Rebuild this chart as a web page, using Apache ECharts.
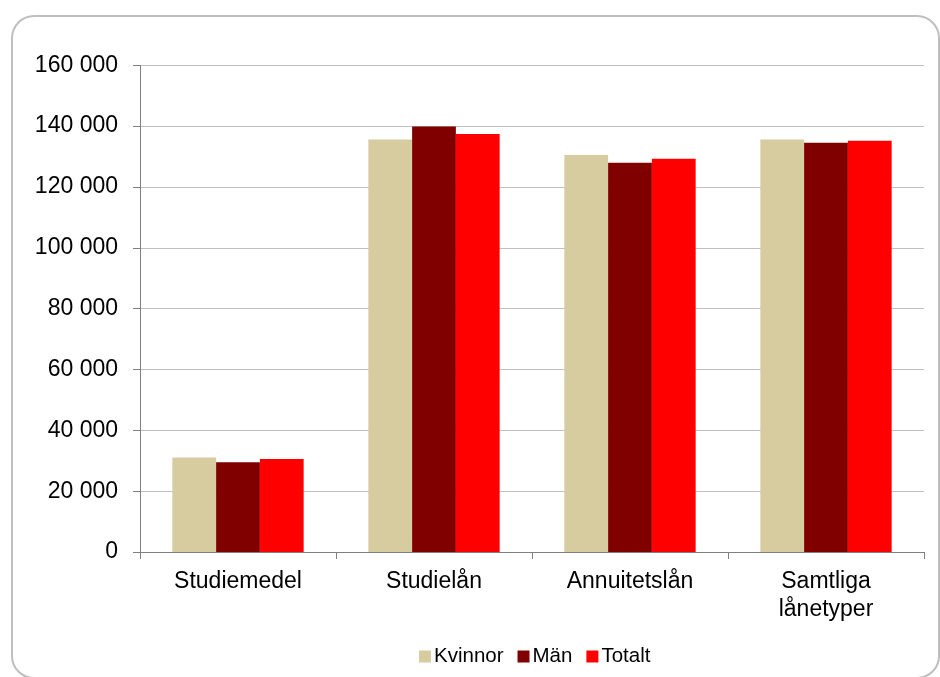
<!DOCTYPE html>
<html>
<head>
<meta charset="utf-8">
<script src="https://cdn.jsdelivr.net/npm/echarts@6/dist/echarts.min.js"></script>
<style>
html,body{margin:0;padding:0;background:#fff;}
#chart{width:940px;height:677px;}
</style>
</head>
<body>
<div id="chart"></div>
<script>
var categories = ['Studiemedel', 'Studielån', 'Annuitetslån', 'Samtliga\nlånetyper'];
var seriesNames = ['Kvinnor', 'Män', 'Totalt'];
var kvinnor = [31100, 135600, 130500, 135600];
var man = [29500, 139900, 128000, 134500];
var totalt = [30600, 137400, 129300, 135200];
var yTicks = [0, 20000, 40000, 60000, 80000, 100000, 120000, 140000, 160000];

function fmt(v) {
  return String(v).replace(/\B(?=(\d{3})+(?!\d))/g, ' ');
}

var chart = echarts.init(document.getElementById('chart'), null, {renderer: 'canvas'});
var font = 'Liberation Sans, Arial, sans-serif';
chart.setOption({
  animation: false,
  backgroundColor: '#ffffff',
  graphic: [{
    type: 'rect',
    shape: {x: 12, y: 16, width: 927, height: 662, r: 22},
    style: {fill: 'none', stroke: '#bfbfbf', lineWidth: 2},
    silent: true,
    z: -1
  }],
  grid: {left: 140, right: 16, top: 65.3, bottom: 125, containLabel: false},
  legend: {
    data: seriesNames,
    left: 414,
    top: 641,
    itemWidth: 12,
    itemHeight: 12,
    itemGap: 14,
    icon: 'rect',
    textStyle: {fontFamily: font, fontSize: 20.5, color: '#000', padding: [0, 0, 0, -2]}
  },
  xAxis: {
    type: 'category',
    data: categories,
    axisLine: {lineStyle: {color: '#7f7f7f', width: 1}},
    axisTick: {show: true, length: 7, lineStyle: {color: '#7f7f7f'}},
    axisLabel: {fontFamily: font, fontSize: 23, color: '#000', margin: 16, lineHeight: 28, interval: 0}
  },
  yAxis: {
    type: 'value',
    min: yTicks[0],
    max: yTicks[yTicks.length - 1],
    interval: 20000,
    axisLine: {show: true, lineStyle: {color: '#7f7f7f', width: 1}},
    axisTick: {show: true, length: 7, lineStyle: {color: '#7f7f7f'}},
    splitLine: {lineStyle: {color: '#c0c0c0', width: 1}},
    axisLabel: {fontFamily: font, fontSize: 23, color: '#000', margin: 22, formatter: function (v) { return fmt(v); }}
  },
  series: [
    {name: seriesNames[0], type: 'bar', data: kvinnor, itemStyle: {color: '#d7cba0'}, barGap: '0%', barCategoryGap: '33%'},
    {name: seriesNames[1], type: 'bar', data: man, itemStyle: {color: '#800000'}, barGap: '0%', barCategoryGap: '33%'},
    {name: seriesNames[2], type: 'bar', data: totalt, itemStyle: {color: '#ff0000'}, barGap: '0%', barCategoryGap: '33%'}
  ]
});
</script>
</body>
</html>
